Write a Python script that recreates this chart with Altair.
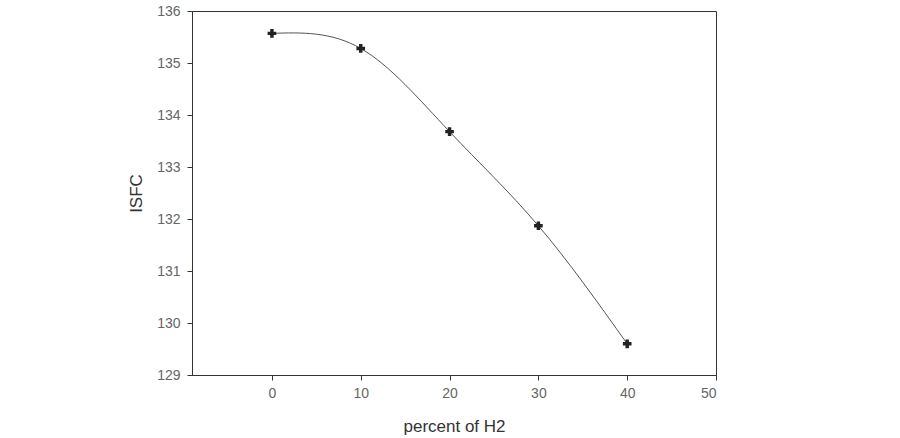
import altair as alt
import pandas as pd

percent_h2 = [0, 10, 20, 30, 40]
isfc = [135.57, 135.28, 133.68, 131.87, 129.60]

df = pd.DataFrame({"percent": percent_h2, "isfc": isfc})

font = "Liberation Sans"

x = alt.X("percent:Q", title="percent of H2",
          scale=alt.Scale(domain=[-9, 50], nice=False, zero=False),
          axis=alt.Axis(values=[0, 10, 20, 30, 40, 50], grid=False, tickSize=5,
                        labelPadding=6, titlePadding=18, format="d"))
y = alt.Y("isfc:Q", title="ISFC",
          scale=alt.Scale(domain=[129, 136], nice=False, zero=False),
          axis=alt.Axis(values=[129, 130, 131, 132, 133, 134, 135, 136], grid=False,
                        tickSize=5, labelPadding=7, titlePadding=11, format="d"))

base = alt.Chart(df)
line = base.mark_line(interpolate="natural", color="#555555", strokeWidth=1).encode(x=x, y=y)
pts = base.mark_point(shape="cross", filled=True, size=75, color="#222222", opacity=1).encode(x=x, y=y)

chart = (line + pts).properties(
    width=524, height=364,
    padding={"left": 192, "top": 11, "right": 184, "bottom": 63},
    autosize=alt.AutoSizeParams(type="none"),
).configure_view(
    stroke="#333333", strokeWidth=1
).configure_axis(
    domainColor="#333333", tickColor="#333333",
    labelFont=font, titleFont=font,
    labelFontSize=14, titleFontSize=17,
    labelColor="#666666", titleColor="#333333",
    titleFontWeight="normal",
)

chart.save("out.html", embed_options={"renderer": "svg", "actions": False})
